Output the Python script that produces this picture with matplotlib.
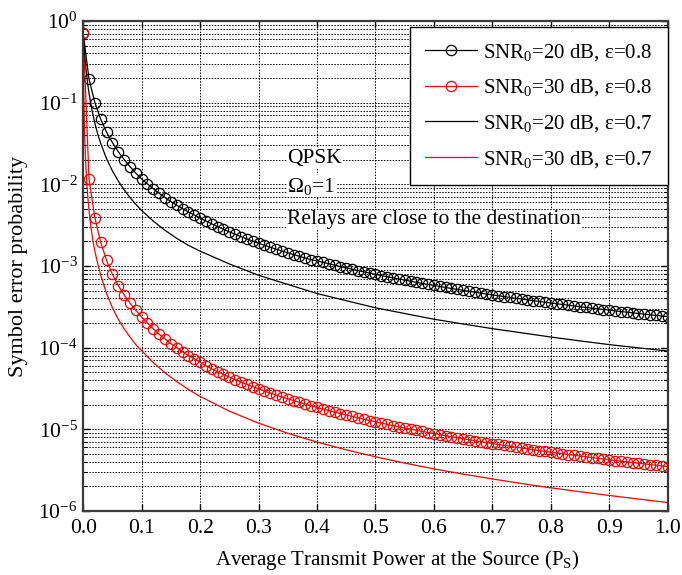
import numpy as np
import matplotlib
matplotlib.use("Agg")
import matplotlib.pyplot as plt
from matplotlib.ticker import LogLocator, LogFormatterSciNotation, MultipleLocator, FormatStrFormatter, NullFormatter

plt.rcParams['font.family'] = ['Liberation Serif', 'DejaVu Serif']
plt.rcParams['mathtext.fontset'] = 'custom'
plt.rcParams['mathtext.rm'] = 'Liberation Serif'
plt.rcParams['mathtext.it'] = 'Liberation Serif:italic'
plt.rcParams['mathtext.bf'] = 'Liberation Serif:bold'

# Average transmit power at the source (sampling grid of the marked curves)
power = np.linspace(0.0, 1.0, 101)

# SER, SNR0 = 20 dB, eps = 0.8
ser_20_08 = [
    0.71, 0.193, 0.100, 0.0626, 0.0434, 0.0324, 0.0251, 0.0201, 0.0165, 0.0137,
    0.0116, 0.0101, 0.0088, 0.00778, 0.00687, 0.00616, 0.00555, 0.00505, 0.00459, 0.00422,
    0.00388, 3.56e-3, 3.28e-3, 3.03e-3, 2.815e-3, 2.62e-3, 2.445e-3, 2.288e-3, 2.146e-3, 2.018e-3,
    1.90e-3, 1.793e-3, 1.696e-3, 1.607e-3, 1.524e-3, 1.449e-3, 1.378e-3, 1.313e-3, 1.253e-3, 1.197e-3,
    1.150e-3, 1.112e-3, 1.067e-3, 1.025e-3, 9.85e-4, 9.48e-4, 9.13e-4, 8.79e-4, 8.48e-4, 8.19e-4,
    7.91e-4, 7.64e-4, 7.39e-4, 7.15e-4, 6.93e-4, 6.71e-4, 6.51e-4, 6.31e-4, 6.12e-4, 5.95e-4,
    5.78e-4, 5.62e-4, 5.46e-4, 5.31e-4, 5.17e-4, 5.03e-4, 4.90e-4, 4.78e-4, 4.66e-4, 4.54e-4,
    4.43e-4, 4.33e-4, 4.22e-4, 4.12e-4, 4.03e-4, 3.94e-4, 3.85e-4, 3.76e-4, 3.68e-4, 3.60e-4,
    3.52e-4, 3.45e-4, 3.38e-4, 3.31e-4, 3.24e-4, 3.17e-4, 3.11e-4, 3.05e-4, 2.99e-4, 2.93e-4,
    2.88e-4, 2.82e-4, 2.77e-4, 2.72e-4, 2.67e-4, 2.62e-4, 2.57e-4, 2.53e-4, 2.48e-4, 2.44e-4,
    2.40e-4,
]

# SER, SNR0 = 30 dB, eps = 0.8
ser_30_08 = [
    0.71, 0.0116, 3.87e-3, 1.95e-3, 1.17e-3, 7.9e-4, 5.76e-4, 4.43e-4, 3.51e-4, 2.86e-4,
    2.37e-4, 2.0e-4, 1.7e-4, 1.46e-4, 1.28e-4, 1.12e-4, 1.0e-4, 8.9e-5, 8.0e-5, 7.3e-5,
    6.65e-5, 6.0e-5, 5.51e-5, 5.08e-5, 4.70e-5, 4.36e-5, 4.06e-5, 3.79e-5, 3.55e-5, 3.33e-5,
    3.13e-5, 2.95e-5, 2.78e-5, 2.63e-5, 2.49e-5, 2.36e-5, 2.25e-5, 2.14e-5, 2.04e-5, 1.94e-5,
    1.855e-5, 1.773e-5, 1.698e-5, 1.626e-5, 1.560e-5, 1.497e-5, 1.438e-5, 1.383e-5, 1.331e-5, 1.282e-5,
    1.236e-5, 1.192e-5, 1.150e-5, 1.111e-5, 1.074e-5, 1.039e-5, 1.005e-5, 9.74e-6, 9.43e-6, 9.14e-6,
    8.87e-6, 8.61e-6, 8.35e-6, 8.11e-6, 7.89e-6, 7.67e-6, 7.46e-6, 7.25e-6, 7.06e-6, 6.88e-6,
    6.70e-6, 6.53e-6, 6.36e-6, 6.21e-6, 6.05e-6, 5.91e-6, 5.77e-6, 5.63e-6, 5.50e-6, 5.37e-6,
    5.25e-6, 5.14e-6, 5.02e-6, 4.91e-6, 4.81e-6, 4.70e-6, 4.61e-6, 4.51e-6, 4.42e-6, 4.33e-6,
    4.24e-6, 4.15e-6, 4.07e-6, 3.99e-6, 3.92e-6, 3.84e-6, 3.77e-6, 3.70e-6, 3.63e-6, 3.56e-6,
    3.50e-6,
]

# SER, SNR0 = 20 dB, eps = 0.7 (solid line)
power_20_07 = [0.0, 0.0025, 0.005, 0.0075, 0.01, 0.015, 0.02, 0.025, 0.03, 0.04,
               0.05, 0.06, 0.07, 0.08, 0.09, 0.10, 0.12, 0.14, 0.16, 0.18,
               0.20, 0.25, 0.30, 0.35, 0.40, 0.45, 0.50, 0.55, 0.60, 0.65,
               0.70, 0.75, 0.80, 0.85, 0.90, 0.95, 1.00]
ser_20_07 = [0.71, 0.389, 0.249, 0.1745, 0.130, 0.0809, 0.0557, 0.0410, 0.0316, 0.0206,
             0.0146, 0.01096, 8.57e-3, 6.90e-3, 5.69e-3, 4.78e-3, 3.54e-3, 2.73e-3, 2.18e-3, 1.79e-3,
             1.52e-3, 1.06e-3, 7.7e-4, 5.95e-4, 4.6e-4, 3.76e-4, 3.08e-4, 2.62e-4, 2.23e-4, 1.95e-4,
             1.71e-4, 1.52e-4, 1.35e-4, 1.21e-4, 1.09e-4, 9.95e-5, 9.1e-5]

# SER, SNR0 = 30 dB, eps = 0.7 (solid line)
power_30_07 = [0.0, 0.00025, 0.0005, 0.00075, 0.001, 0.0015, 0.002, 0.0025, 0.003, 0.004,
               0.005, 0.006, 0.007, 0.008, 0.009, 0.010, 0.012, 0.014, 0.016, 0.018,
               0.020, 0.025, 0.030, 0.035, 0.040, 0.045, 0.050, 0.055, 0.060, 0.065,
               0.070, 0.075, 0.080, 0.085, 0.090, 0.095, 0.10, 0.12, 0.14, 0.16,
               0.18, 0.20, 0.25, 0.30, 0.35, 0.40, 0.45, 0.50, 0.55, 0.60,
               0.65, 0.70, 0.75, 0.80, 0.85, 0.90, 0.95, 1.00]
ser_30_07 = [0.71, 0.389, 0.249, 0.1745, 0.130, 0.0809, 0.0557, 0.0410, 0.0316, 0.0206,
             0.0146, 0.01096, 8.57e-3, 6.90e-3, 5.69e-3, 4.78e-3, 3.54e-3, 2.73e-3, 2.18e-3, 1.79e-3,
             1.52e-3, 1.06e-3, 7.7e-4, 5.95e-4, 4.6e-4, 3.76e-4, 3.08e-4, 2.62e-4, 2.23e-4, 1.95e-4,
             1.71e-4, 1.52e-4, 1.35e-4, 1.21e-4, 1.09e-4, 9.95e-5, 9.2e-5, 6.56e-5, 4.92e-5, 3.84e-5,
             3.08e-5, 2.53e-5, 1.67e-5, 1.19e-5, 8.95e-6, 6.98e-6, 5.61e-6, 4.61e-6, 3.86e-6, 3.28e-6,
             2.83e-6, 2.47e-6, 2.17e-6, 1.92e-6, 1.72e-6, 1.55e-6, 1.40e-6, 1.27e-6]

labels = [r'SNR$_0$=20 dB, ε=0.8', r'SNR$_0$=30 dB, ε=0.8',
          r'SNR$_0$=20 dB, ε=0.7', r'SNR$_0$=30 dB, ε=0.7']

fig = plt.figure(figsize=(6.82, 5.75), dpi=100)
ax = fig.add_axes([0.122, 0.1113, 0.857, 0.8522])

ax.semilogy(power, ser_20_08, color='black', lw=0.9, marker='o', ms=7.4,
            mfc='none', mec='black', mew=0.9, label=labels[0])
ax.semilogy(power, ser_30_08, color='red', lw=0.9, marker='o', ms=7.4,
            mfc='none', mec='red', mew=0.9, label=labels[1])
ax.semilogy(power_20_07, ser_20_07, color='black', lw=0.9, label=labels[2])
ax.semilogy(power_30_07, ser_30_07, color='red', lw=0.9, label=labels[3])

ax.set_xlim(0, 1)
ax.set_ylim(1e-6, 1)
ax.xaxis.set_major_locator(MultipleLocator(0.1))
ax.xaxis.set_major_formatter(FormatStrFormatter('%.1f'))
ax.yaxis.set_major_locator(LogLocator(base=10, numticks=10))
ax.yaxis.set_minor_locator(LogLocator(base=10, subs=np.arange(2, 10), numticks=20))
ax.yaxis.set_major_formatter(LogFormatterSciNotation())
ax.yaxis.set_minor_formatter(NullFormatter())
ax.xaxis.get_offset_text().set_visible(False)
ax.yaxis.get_offset_text().set_visible(False)

ax.grid(True, which='major', axis='both', color='black', lw=0.7, ls=(0, (1.5, 1.5)))
ax.grid(True, which='minor', axis='y', color='black', lw=0.7, ls=(0, (1.5, 1.5)))

ax.tick_params(which='both', direction='in', top=True, right=True, labelsize=15.5)
ax.tick_params(which='major', length=5, width=1)
ax.tick_params(which='minor', length=3, width=0.8)
ax.tick_params(axis='x', pad=6)
ax.tick_params(axis='y', pad=4)
for s in ax.spines.values():
    s.set_linewidth(1.6)
    s.set_color('#3a3a3a')

ax.set_xlabel(r'Average Transmit Power at the Source (P$_{\rm S}$)', fontsize=15)
ax.xaxis.set_label_coords(0.537, -0.075)
ax.set_ylabel('Symbol error probability', fontsize=16)
ax.yaxis.set_label_coords(-0.095, 0.5)

leg = ax.legend(loc='upper right', bbox_to_anchor=(1.0, 0.988), borderaxespad=0,
                fontsize=15, numpoints=1, handlelength=2.5, handletextpad=0.3,
                labelspacing=0.71, borderpad=0.72, fancybox=False, framealpha=1,
                edgecolor='black')
leg.get_frame().set_linewidth(1.0)

box = dict(facecolor='white', edgecolor='none', pad=0.5)
ax.text(0.349, 0.710, 'QPSK', transform=ax.transAxes, fontsize=15.5, va='baseline', bbox=box)
ax.text(0.349, 0.652, r'$\Omega_0$=1', transform=ax.transAxes, fontsize=15.5, va='baseline', bbox=box)
ax.text(0.349, 0.585, 'Relays are close to the destination', transform=ax.transAxes,
        fontsize=15.5, va='baseline', bbox=box)

fig.savefig('out.png', dpi=100)
